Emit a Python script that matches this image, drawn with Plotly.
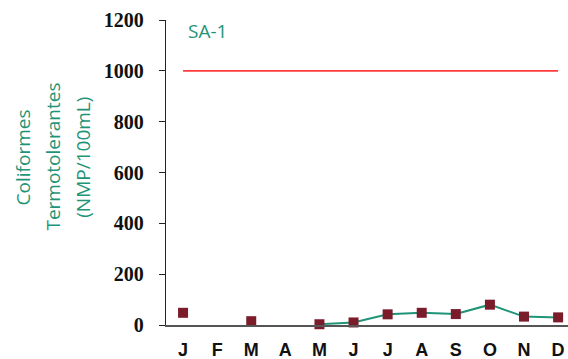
import plotly.graph_objects as go

# Monthly thermotolerant coliform counts at station SA-1
months = ["J", "F", "M", "A", "M", "J", "J", "A", "S", "O", "N", "D"]
month_ids = list(range(12))
coliformes = [48, None, 15, None, 3, 10, 42, 48, 43, 80, 33, 30]
limite = [1000] * 12
y_ticks = [0, 200, 400, 600, 800, 1000, 1200]
y_title_lines = ["Coliformes", "Termotolerantes", "(NMP/100mL)"]

TEAL = "#1f9477"
MAROON = "#7b1c2b"

fig = go.Figure()

# Reference limit (1000 NMP/100mL)
fig.add_trace(go.Scatter(
    x=month_ids, y=limite, mode="lines",
    line=dict(color="#ff3b3b", width=1.6),
    hoverinfo="skip", showlegend=False,
))

# Measured values
fig.add_trace(go.Scatter(
    x=month_ids, y=coliformes, mode="lines+markers",
    line=dict(color=TEAL, width=2),
    marker=dict(symbol="square", size=10, color=MAROON,
                line=dict(color=MAROON, width=0)),
    connectgaps=False, cliponaxis=False, showlegend=False,
))

# Vertical axis title, one annotation per line
title_annotations = [
    dict(text=line, xref="paper", yref="paper", x=xpos, y=0.551,
         xanchor="center", yanchor="middle", textangle=-90, showarrow=False,
         font=dict(family="Open Sans", size=19, color=TEAL))
    for line, xpos in zip(y_title_lines, [-0.357, -0.282, -0.207])
]

fig.update_layout(
    width=568, height=359,
    margin=dict(l=166, r=0, t=20, b=34),
    paper_bgcolor="white", plot_bgcolor="white",
    xaxis=dict(
        range=[-0.5, 11.29], automargin=False,
        tickmode="array", tickvals=month_ids, ticktext=months,
        showgrid=False, zeroline=False,
        showline=True, linecolor="#555555", linewidth=1.5,
        ticks="", ticklabelstandoff=8,
        tickfont=dict(family="Liberation Sans", size=18, color="#111111", weight="bold"),
    ),
    yaxis=dict(
        range=[0, 1200], automargin=False,
        tickmode="array", tickvals=y_ticks,
        showgrid=False, zeroline=False,
        showline=True, linecolor="#222222", linewidth=1.3,
        ticks="outside", ticklen=6, tickcolor="#222222", tickwidth=1.3,
        ticklabelstandoff=11,
        tickfont=dict(family="Liberation Serif", size=20, color="#111111", weight="bold"),
    ),
    annotations=[
        dict(text="SA-1", xref="paper", yref="paper", x=0.05, y=0.964,
             xanchor="left", yanchor="middle", showarrow=False,
             font=dict(family="Open Sans", size=19, color=TEAL)),
    ] + title_annotations,
)

fig.write_html("out.html")
